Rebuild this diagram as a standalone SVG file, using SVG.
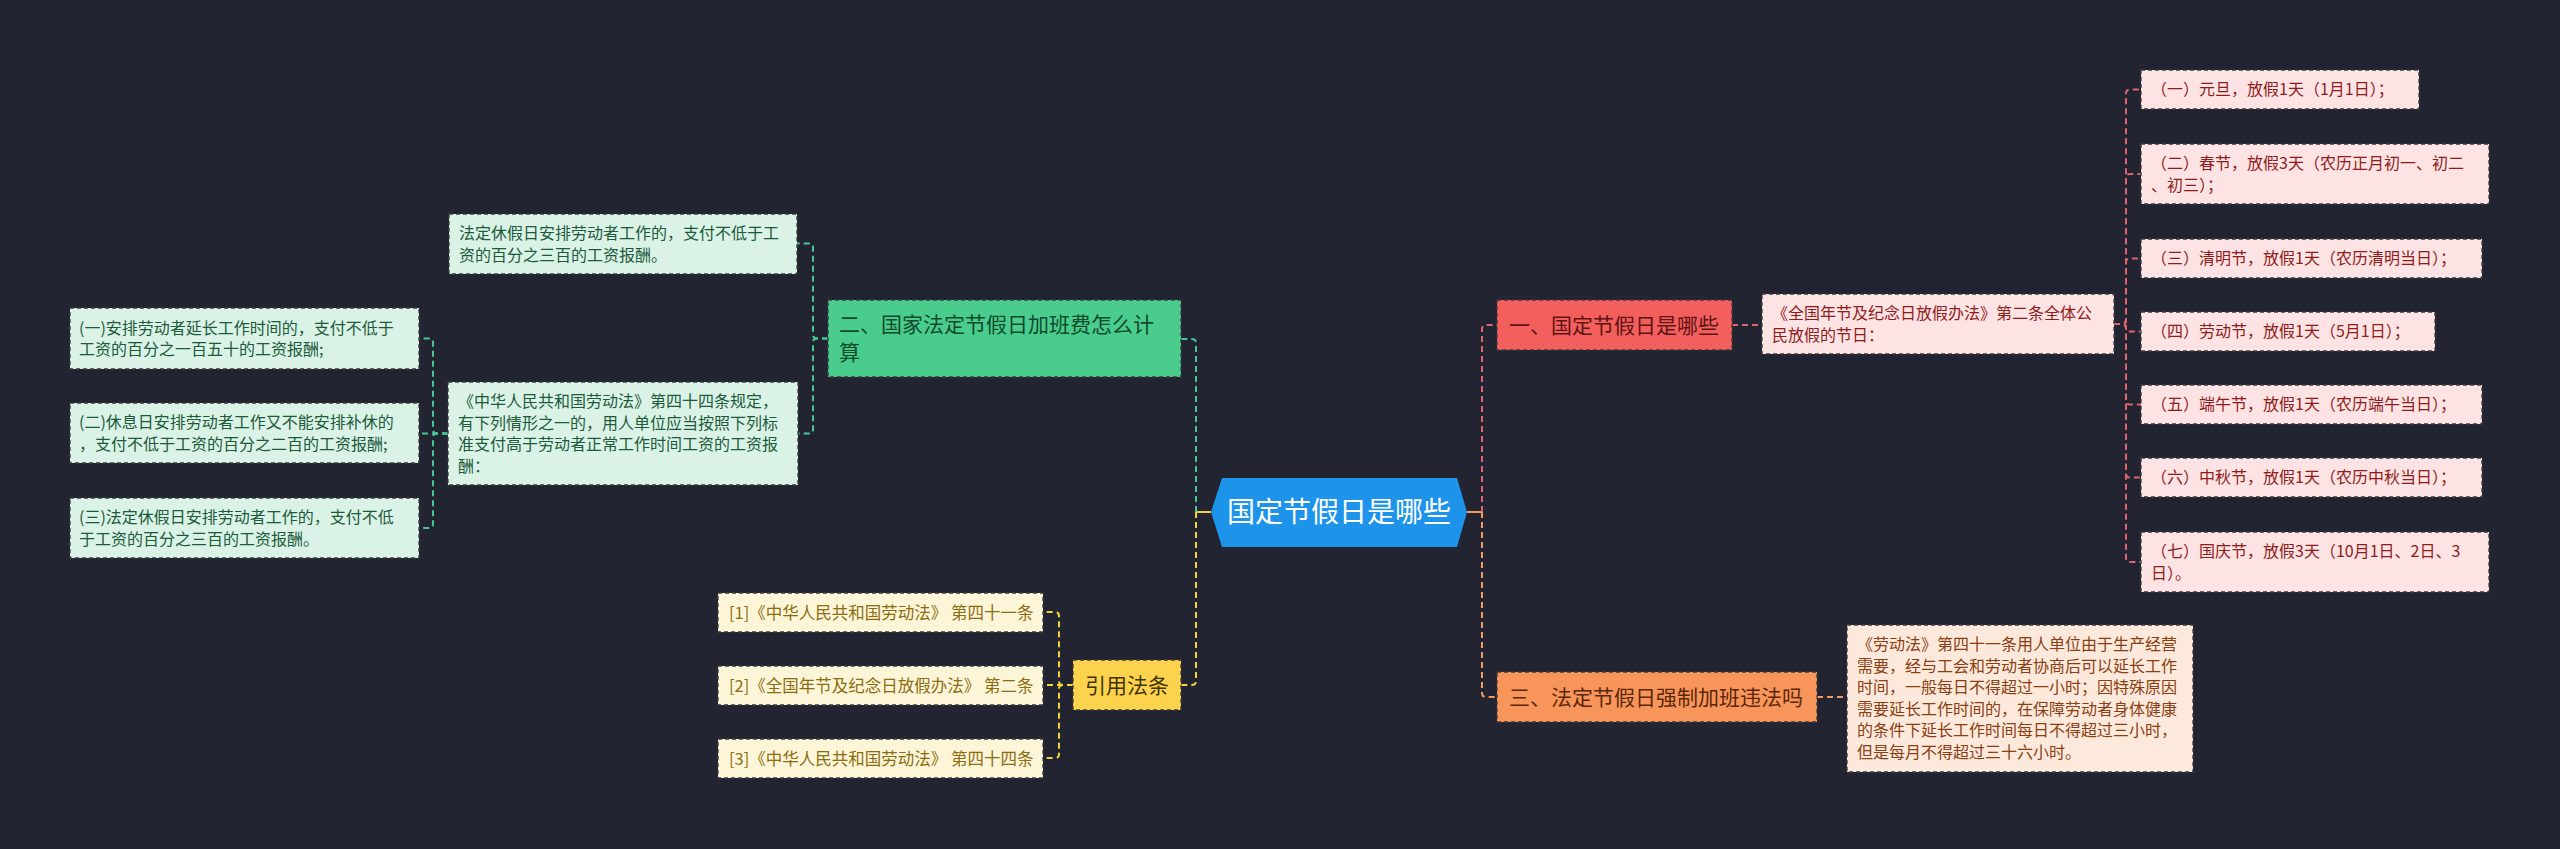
<svg xmlns="http://www.w3.org/2000/svg" width="2560" height="849" viewBox="0 0 2560 849">
<style>
text{font-family:"Noto Sans CJK SC","Noto Sans",sans-serif;}
.bd{stroke:#3a3a3a;stroke-width:1.3;stroke-dasharray:4 3;}
.cn{fill:none;stroke-width:2;stroke-dasharray:6 4;}
.t1{font-size:21px;}
.t2{font-size:16px;}
.ty{font-size:16.5px;}
.red{stroke:#e0646e;}
.org{stroke:#f59a5b;}
.grn{stroke:#46c896;}
.yel{stroke:#f3d23a;}
.rd{fill:#fde3e3;} .rdt{fill:#8f1c1c;}
.od{fill:#fde9dc;} .odt{fill:#8a3f12;}
.gd{fill:#daf3e6;} .gdt{fill:#1d5a3c;}
.yd{fill:#fdf5d8;} .ydt{fill:#8a6d0f;}
</style>
<rect x="0" y="0" width="2560" height="849" fill="#222531"/>
<g id="connectors">
<path d="M1211,512 H1196" fill="none" stroke="#f3d23a" stroke-width="2"/>
<path d="M1467,512 H1482" fill="none" stroke="#f59a5b" stroke-width="2"/>
<path class="cn grn" d="M1196,512 V343 Q1196,339 1192,339 H1181"/>
<path class="cn yel" d="M1196,512 V681 Q1196,685 1192,685 H1181"/>
<path class="cn red" d="M1482,512 V329 Q1482,325 1486,325 H1497"/>
<path class="cn org" d="M1482,512 V693 Q1482,697 1486,697 H1497"/>
<path class="cn red" d="M1732,325 H1762"/>
<path class="cn org" d="M1817,697 H1847"/>
<path class="cn red" d="M2114,324 H2122 Q2126,324 2126,320 V93.5 Q2126,89.5 2130,89.5 H2141"/>
<path class="cn red" d="M2114,324 H2122 Q2126,324 2126,320 V178 Q2126,174 2130,174 H2141"/>
<path class="cn red" d="M2114,324 H2122 Q2126,324 2126,320 V262.5 Q2126,258.5 2130,258.5 H2141"/>
<path class="cn red" d="M2114,324 H2122 Q2126,324 2126,328 V327.5 Q2126,331.5 2130,331.5 H2141"/>
<path class="cn red" d="M2114,324 H2122 Q2126,324 2126,328 V400.5 Q2126,404.5 2130,404.5 H2141"/>
<path class="cn red" d="M2114,324 H2122 Q2126,324 2126,328 V473.5 Q2126,477.5 2130,477.5 H2141"/>
<path class="cn red" d="M2114,324 H2122 Q2126,324 2126,328 V558 Q2126,562 2130,562 H2141"/>
<path class="cn grn" d="M828,338.5 H817 Q813,338.5 813,334.5 V247.5 Q813,243.5 809,243.5 H797"/>
<path class="cn grn" d="M828,338.5 H817 Q813,338.5 813,342.5 V429.5 Q813,433.5 809,433.5 H798"/>
<path class="cn grn" d="M448,433.5 H437 Q433,433.5 433,429.5 V342.5 Q433,338.5 429,338.5 H419"/>
<path class="cn grn" d="M448,433.5 H419"/>
<path class="cn grn" d="M448,433.5 H437 Q433,433.5 433,437.5 V524 Q433,528 429,528 H419"/>
<path class="cn yel" d="M1073,685 H1063 Q1059,685 1059,681 V616 Q1059,612 1055,612 H1043"/>
<path class="cn yel" d="M1073,685 H1043"/>
<path class="cn yel" d="M1073,685 H1063 Q1059,685 1059,689 V754 Q1059,758 1055,758 H1043"/>
</g>
<g id="root">
<polygon points="1211,512 1222,478 1457,478 1467,512 1457,547 1222,547" fill="#1d93ea"/>
<text x="1339" y="522" font-size="28" fill="#ffffff" text-anchor="middle">国定节假日是哪些</text>
</g>
<g id="n1">
<rect class="bd" x="1497" y="300" width="235" height="50" fill="#f25f5c"/>
<text class="t1" x="1509" y="332.5" fill="#5e1414">一、国定节假日是哪些</text>
</g>
<g id="n1d">
<rect class="bd rd" x="1762" y="294" width="352" height="60"/>
<text class="t2 rdt" x="1772" y="319"><tspan x="1772">《全国年节及纪念日放假办法》第二条全体公</tspan><tspan x="1772" dy="21.5">民放假的节日：</tspan></text>
</g>
<g id="h1">
<rect class="bd rd" x="2141" y="70" width="278" height="39"/>
<text class="t2 rdt" x="2151" y="95.3">（一）元旦，放假1天（1月1日）；</text>
</g>
<g id="h2">
<rect class="bd rd" x="2141" y="144" width="348" height="60"/>
<text class="t2 rdt" x="2151" y="169.3"><tspan x="2151">（二）春节，放假3天（农历正月初一、初二</tspan><tspan x="2151" dy="21.5">、初三）；</tspan></text>
</g>
<g id="h3">
<rect class="bd rd" x="2141" y="239" width="341" height="39"/>
<text class="t2 rdt" x="2151" y="264.3">（三）清明节，放假1天（农历清明当日）；</text>
</g>
<g id="h4">
<rect class="bd rd" x="2141" y="312" width="294" height="39"/>
<text class="t2 rdt" x="2151" y="337.3">（四）劳动节，放假1天（5月1日）；</text>
</g>
<g id="h5">
<rect class="bd rd" x="2141" y="385" width="341" height="39"/>
<text class="t2 rdt" x="2151" y="410.3">（五）端午节，放假1天（农历端午当日）；</text>
</g>
<g id="h6">
<rect class="bd rd" x="2141" y="458" width="341" height="39"/>
<text class="t2 rdt" x="2151" y="483.3">（六）中秋节，放假1天（农历中秋当日）；</text>
</g>
<g id="h7">
<rect class="bd rd" x="2141" y="532" width="348" height="60"/>
<text class="t2 rdt" x="2151" y="557.3"><tspan x="2151">（七）国庆节，放假3天（10月1日、2日、3</tspan><tspan x="2151" dy="21.5">日）。</tspan></text>
</g>
<g id="n3">
<rect class="bd" x="1497" y="672" width="320" height="50" fill="#f7955a"/>
<text class="t1" x="1509" y="704.5" fill="#5b2708">三、法定节假日强制加班违法吗</text>
</g>
<g id="n3d">
<rect class="bd od" x="1847" y="625" width="346" height="147"/>
<text class="t2 odt" x="1857" y="650.3"><tspan x="1857">《劳动法》第四十一条用人单位由于生产经营</tspan><tspan x="1857" dy="21.5">需要，经与工会和劳动者协商后可以延长工作</tspan><tspan x="1857" dy="21.5">时间，一般每日不得超过一小时；因特殊原因</tspan><tspan x="1857" dy="21.5">需要延长工作时间的，在保障劳动者身体健康</tspan><tspan x="1857" dy="21.5">的条件下延长工作时间每日不得超过三小时，</tspan><tspan x="1857" dy="21.5">但是每月不得超过三十六小时。</tspan></text>
</g>
<g id="n2">
<rect class="bd" x="828" y="300" width="353" height="77" fill="#49cc8c"/>
<text class="t1" x="839" y="332" fill="#0f4a2c"><tspan x="839">二、国家法定节假日加班费怎么计</tspan><tspan x="839" dy="28">算</tspan></text>
</g>
<g id="n2a">
<rect class="bd gd" x="449" y="214" width="348" height="60"/>
<text class="t2 gdt" x="459" y="239.3"><tspan x="459">法定休假日安排劳动者工作的，支付不低于工</tspan><tspan x="459" dy="21.5">资的百分之三百的工资报酬。</tspan></text>
</g>
<g id="n2b">
<rect class="bd gd" x="448" y="382" width="350" height="103"/>
<text class="t2 gdt" x="458" y="407.3"><tspan x="458">《中华人民共和国劳动法》第四十四条规定，</tspan><tspan x="458" dy="21.5">有下列情形之一的，用人单位应当按照下列标</tspan><tspan x="458" dy="21.5">准支付高于劳动者正常工作时间工资的工资报</tspan><tspan x="458" dy="21.5">酬：</tspan></text>
</g>
<g id="n2b1">
<rect class="bd gd" x="70" y="308" width="349" height="61"/>
<text class="t2 gdt" x="79" y="333.5"><tspan x="79">(一)安排劳动者延长工作时间的，支付不低于</tspan><tspan x="79" dy="21.5">工资的百分之一百五十的工资报酬;</tspan></text>
</g>
<g id="n2b2">
<rect class="bd gd" x="70" y="403" width="349" height="60"/>
<text class="t2 gdt" x="79" y="428.3"><tspan x="79">(二)休息日安排劳动者工作又不能安排补休的</tspan><tspan x="79" dy="21.5">，支付不低于工资的百分之二百的工资报酬;</tspan></text>
</g>
<g id="n2b3">
<rect class="bd gd" x="70" y="498" width="349" height="60"/>
<text class="t2 gdt" x="79" y="523.3"><tspan x="79">(三)法定休假日安排劳动者工作的，支付不低</tspan><tspan x="79" dy="21.5">于工资的百分之三百的工资报酬。</tspan></text>
</g>
<g id="n4">
<rect class="bd" x="1073" y="660" width="108" height="50" fill="#fdd24c"/>
<text class="t1" x="1085" y="692.5" fill="#3f3200">引用法条</text>
</g>
<g id="n4a">
<rect class="bd yd" x="718" y="593" width="325" height="39"/>
<text class="ty ydt" x="729" y="618.5">[1]《中华人民共和国劳动法》 第四十一条</text>
</g>
<g id="n4b">
<rect class="bd yd" x="718" y="666" width="325" height="39"/>
<text class="ty ydt" x="729" y="691.5">[2]《全国年节及纪念日放假办法》 第二条</text>
</g>
<g id="n4c">
<rect class="bd yd" x="718" y="739" width="325" height="39"/>
<text class="ty ydt" x="729" y="764.5">[3]《中华人民共和国劳动法》 第四十四条</text>
</g>
</svg>
